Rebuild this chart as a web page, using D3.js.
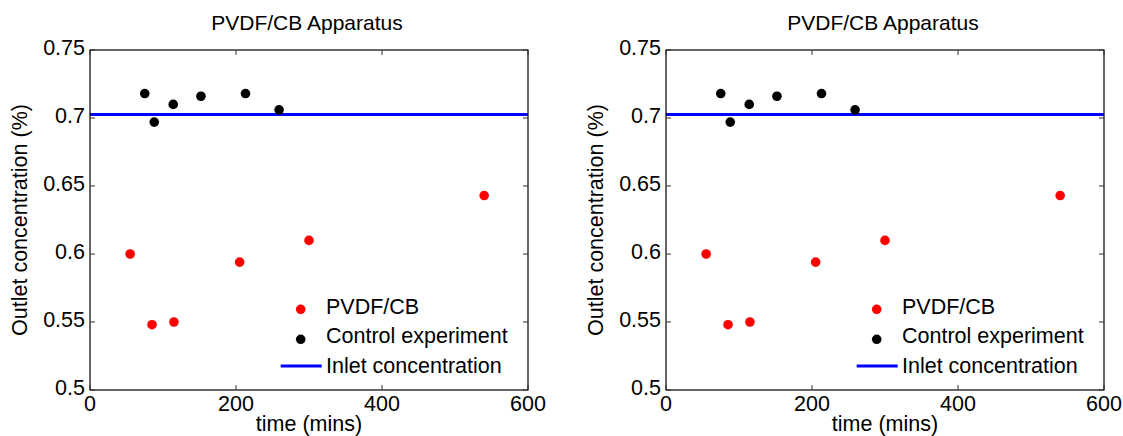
<!DOCTYPE html>
<html>
<head>
<meta charset="utf-8">
<script src="https://cdn.jsdelivr.net/npm/d3@7/dist/d3.min.js"></script>
<style>
  html, body { margin: 0; padding: 0; background: #fff; }
  svg { display: block; }
  text { font-family: "Liberation Sans", Arial, sans-serif; fill: #000; }
</style>
</head>
<body>
<script>
// ---- data ----
const chartTitle = "PVDF/CB Apparatus";
const xLabel = "time (mins)";
const yLabel = "Outlet concentration (%)";
const xTicks = [0, 200, 400, 600];
const yTicks = [0.5, 0.55, 0.6, 0.65, 0.7, 0.75];
const yTickLabels = ["0.5", "0.55", "0.6", "0.65", "0.7", "0.75"];
const pvdfTime = [55, 85, 115, 205, 300, 540];
const pvdfConc = [0.600, 0.548, 0.550, 0.594, 0.610, 0.643];
const controlTime = [75, 88, 114, 152, 213, 259];
const controlConc = [0.718, 0.697, 0.710, 0.716, 0.718, 0.706];
const inletTime = [0, 600];
const inletConc = [0.7025, 0.7025];
const legendLabels = ["PVDF/CB", "Control experiment", "Inlet concentration"];

const W = 1123, H = 436;
const svg = d3.select("body").append("svg").attr("width", W).attr("height", H);

const panelLefts = [90, 666];
const plotTop = 50, pw = 438, ph = 340;
const FS = 21.5;

function drawPanel(left) {
  const g = svg.append("g").attr("transform", `translate(${left},${plotTop})`);
  const x = d3.scaleLinear().domain([0, 600]).range([0, pw]);
  const y = d3.scaleLinear().domain([0.5, 0.75]).range([ph, 0]);

  // inlet line
  g.append("path")
    .datum(inletTime.map((t, i) => [t, inletConc[i]]))
    .attr("d", d3.line().x(d => x(d[0])).y(d => y(d[1])))
    .attr("stroke", "#0000ff").attr("stroke-width", 3).attr("fill", "none");

  // points
  g.selectAll("circle.ctrl").data(controlTime.map((t, i) => [t, controlConc[i]]))
    .enter().append("circle").attr("class", "ctrl")
    .attr("cx", d => x(d[0])).attr("cy", d => y(d[1])).attr("r", 4.8).attr("fill", "#000");
  g.selectAll("circle.pvdf").data(pvdfTime.map((t, i) => [t, pvdfConc[i]]))
    .enter().append("circle").attr("class", "pvdf")
    .attr("cx", d => x(d[0])).attr("cy", d => y(d[1])).attr("r", 4.8).attr("fill", "#ff0000");

  // box
  g.append("rect").attr("x", 0).attr("y", 0).attr("width", pw).attr("height", ph)
    .attr("fill", "none").attr("stroke", "#000").attr("stroke-width", 1.2);

  // ticks (inward, all four sides)
  const tl = 5;
  xTicks.forEach(t => {
    g.append("line").attr("x1", x(t)).attr("x2", x(t)).attr("y1", ph).attr("y2", ph - tl)
      .attr("stroke", "#333").attr("stroke-width", 1);
    g.append("line").attr("x1", x(t)).attr("x2", x(t)).attr("y1", 0).attr("y2", tl)
      .attr("stroke", "#333").attr("stroke-width", 1);
  });
  yTicks.forEach(t => {
    g.append("line").attr("x1", 0).attr("x2", tl).attr("y1", y(t)).attr("y2", y(t))
      .attr("stroke", "#333").attr("stroke-width", 1);
    g.append("line").attr("x1", pw).attr("x2", pw - tl).attr("y1", y(t)).attr("y2", y(t))
      .attr("stroke", "#333").attr("stroke-width", 1);
  });

  // tick labels
  g.selectAll("text.xt").data(xTicks).enter().append("text").attr("class", "xt")
    .attr("x", d => x(d)).attr("y", ph + 20.5).attr("text-anchor", "middle")
    .attr("font-size", FS).text(d => d);
  g.selectAll("text.yt").data(yTicks).enter().append("text").attr("class", "yt")
    .attr("x", -5).attr("y", d => y(d) + 4.8).attr("text-anchor", "end")
    .attr("font-size", FS).text((d, i) => yTickLabels[i]);

  // title
  g.append("text").attr("x", pw / 2 - 2).attr("y", 29.5 - plotTop).attr("text-anchor", "middle")
    .attr("font-size", 21).text(chartTitle);
  // x label
  g.append("text").attr("x", pw / 2).attr("y", 431 - plotTop).attr("text-anchor", "middle")
    .attr("font-size", FS).text(xLabel);
  // y label
  g.append("text").attr("transform", `translate(${27 - 90},${ph / 2}) rotate(-90)`)
    .attr("text-anchor", "middle").attr("font-size", FS).text(yLabel);

  // legend
  const lx = 210.7, tx = 236;
  const baselines = [313.5 - plotTop, 343.3 - plotTop, 373 - plotTop];
  g.append("circle").attr("cx", lx).attr("cy", baselines[0] - 4.2).attr("r", 4.8).attr("fill", "#ff0000");
  g.append("circle").attr("cx", lx).attr("cy", baselines[1] - 4).attr("r", 4.8).attr("fill", "#000");
  g.append("line").attr("x1", lx - 20).attr("x2", lx + 21).attr("y1", baselines[2] - 7).attr("y2", baselines[2] - 7)
    .attr("stroke", "#0000ff").attr("stroke-width", 3);
  legendLabels.forEach((s, i) => {
    g.append("text").attr("x", tx).attr("y", baselines[i]).attr("font-size", FS).text(s);
  });
}

panelLefts.forEach(drawPanel);
</script>
</body>
</html>
